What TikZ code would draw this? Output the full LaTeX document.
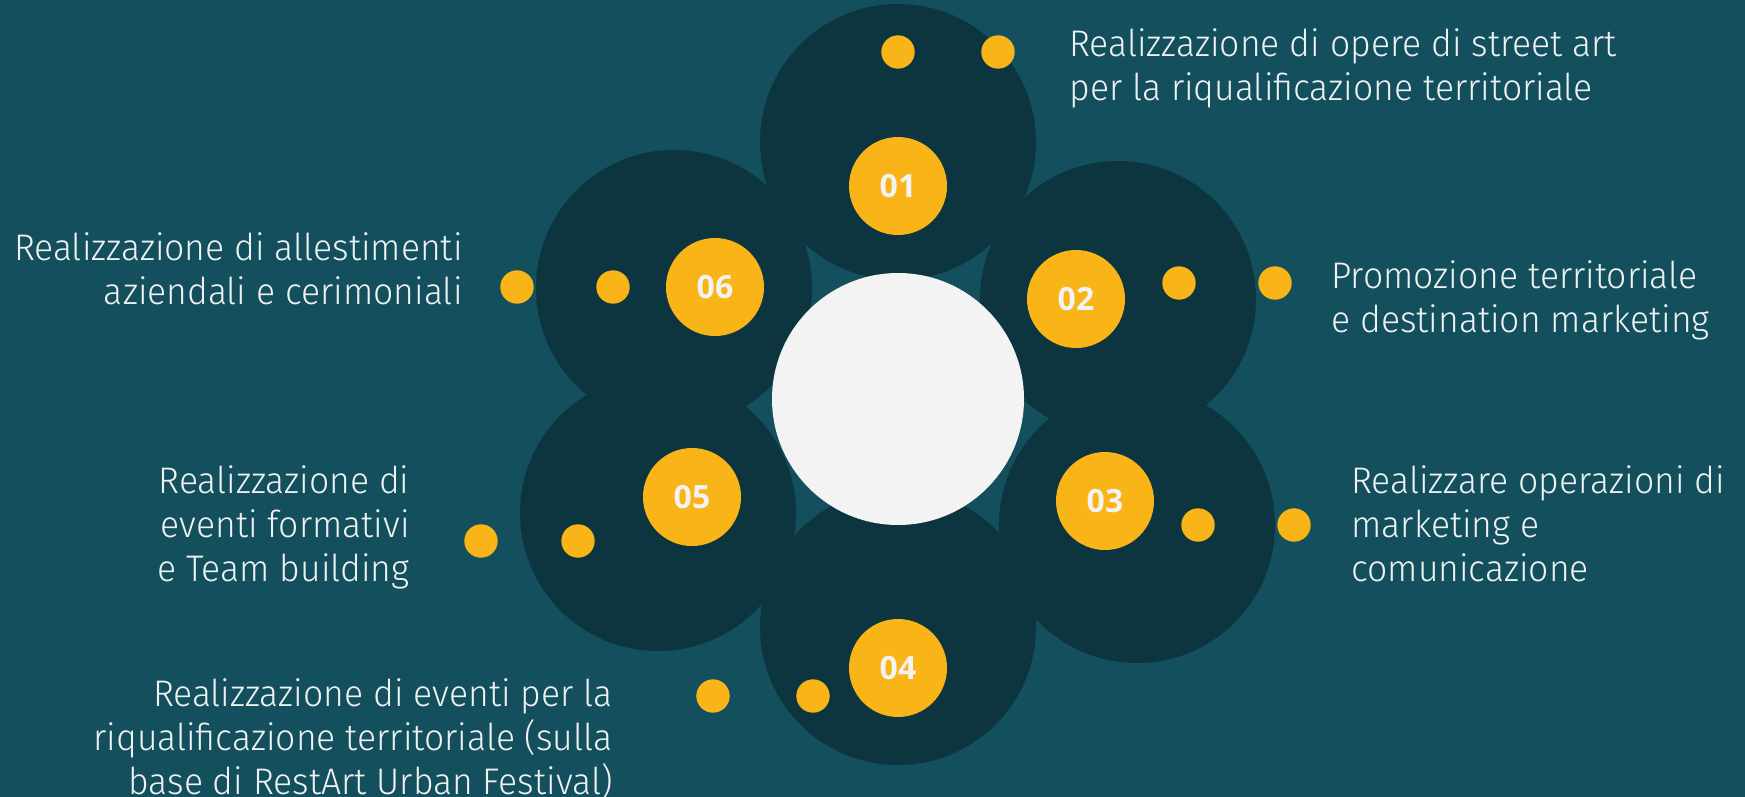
\documentclass[tikz,border=0pt]{standalone}
\usepackage{fontspec}
\newfontfamily\txtfont{Fira Sans}[UprightFont={* Light},FakeStretch=0.96]
\newfontfamily\numfont{Open Sans}
\definecolor{bgc}{HTML}{144F5D}
\definecolor{darkc}{HTML}{0C3540}
\definecolor{yelc}{HTML}{F9B418}
\definecolor{whc}{HTML}{F3F3F3}
\definecolor{txtc}{HTML}{EEF2F2}
\begin{document}
\begin{tikzpicture}[x=0.5pt,y=-0.5pt,
  bigc/.style={circle,fill=darkc,minimum size=138pt,inner sep=0pt},
  hubc/.style={circle,fill=whc,minimum size=126pt,inner sep=0pt},
  numc/.style={circle,fill=yelc,minimum size=49pt,inner sep=0pt,text=whc,
    font=\numfont\bfseries\fontsize{16}{18}\selectfont},
  dotc/.style={circle,fill=yelc,minimum size=16.7pt,inner sep=0pt},
  lab/.style={inner sep=0pt,text=txtc,font=\txtfont\fontsize{18.5}{22}\selectfont},
  labl/.style={lab,anchor=base west},
  labr/.style={lab,anchor=base east}]
\fill[bgc] (0,0) rectangle (1745,797);
\useasboundingbox (0,0) rectangle (1745,797);
% petals
\node[bigc] (c1) at (898,142) {};
\node[bigc] (c2) at (1118,299) {};
\node[bigc] (c3) at (1137,525) {};
\node[bigc] (c4) at (898,627) {};
\node[bigc] (c5) at (658,513) {};
\node[bigc] (c6) at (674,288) {};
% hub
\node[hubc] (hub) at (898,399) {};
% numbers
\node[numc] (n1) at (898,186) {01};
\node[numc] (n2) at (1076,299) {02};
\node[numc] (n3) at (1105,501) {03};
\node[numc] (n4) at (898,668) {04};
\node[numc] (n5) at (692,497) {05};
\node[numc] (n6) at (715,287) {06};
% dots
\node[dotc] (d1a) at (898,52) {};
\node[dotc] (d1b) at (998,52) {};
\node[dotc] (d2a) at (1179,283) {};
\node[dotc] (d2b) at (1275,283) {};
\node[dotc] (d3a) at (1198,525) {};
\node[dotc] (d3b) at (1294,525) {};
\node[dotc] (d4a) at (813,696) {};
\node[dotc] (d4b) at (713,696) {};
\node[dotc] (d5a) at (578,541) {};
\node[dotc] (d5b) at (481,541) {};
\node[dotc] (d6a) at (613,287) {};
\node[dotc] (d6b) at (517,287) {};
% labels
\node[labl] (t1) at (1069,57) {\begin{tabular}[t]{@{}l@{}}Realizzazione di opere di street art\\per la riqualificazione territoriale\end{tabular}};
\node[labl] (t2) at (1331,288) {\begin{tabular}[t]{@{}l@{}}Promozione territoriale\\e destination marketing\end{tabular}};
\node[labl] (t3) at (1351,493) {\begin{tabular}[t]{@{}l@{}}Realizzare operazioni di\\marketing e\\comunicazione\end{tabular}};
\node[labr] (t4) at (613,706) {\begin{tabular}[t]{@{}r@{}}Realizzazione di eventi per la\\riqualificazione territoriale (sulla\\base di RestArt Urban Festival)\end{tabular}};
\node[labr] (t5) at (410,493) {\begin{tabular}[t]{@{}r@{}}Realizzazione di\\eventi formativi\\e Team building\end{tabular}};
\node[labr] (t6) at (463,260) {\begin{tabular}[t]{@{}r@{}}Realizzazione di allestimenti\\aziendali e cerimoniali\end{tabular}};
\end{tikzpicture}
\end{document}
